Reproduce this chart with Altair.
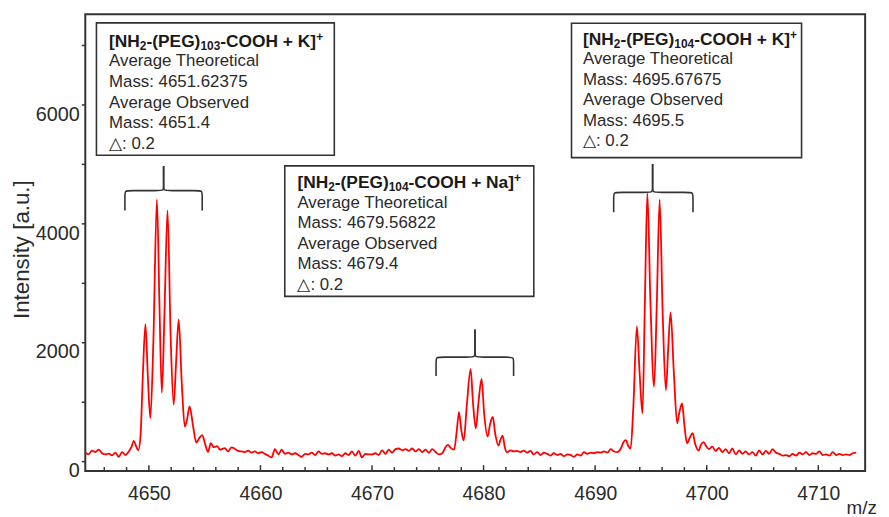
import altair as alt
import pandas as pd

# ---------------- spectrum ----------------
mz = [
    # baseline left
    4644.3, 4644.6, 4644.9, 4645.2, 4645.5, 4645.8, 4646.1, 4646.4, 4646.7, 4647.0,
    4647.3, 4647.6, 4647.9, 4648.2,
    # [NH2-(PEG)103-COOH + K]+ cluster
    4648.45, 4648.65, 4648.85, 4649.05, 4649.25, 4649.45, 4649.69, 4649.9, 4650.13, 4650.4,
    4650.72, 4650.95, 4651.16, 4651.4, 4651.67, 4651.95, 4652.22, 4652.45, 4652.67, 4652.95,
    4653.22, 4653.42, 4653.65, 4653.95, 4654.25, 4654.5, 4654.78, 4655.05, 4655.3, 4655.55,
    4655.8, 4656.1, 4656.4, 4656.8, 4657.1, 4657.4, 4657.7, 4658.0, 4658.3, 4658.6,
    4658.9, 4659.2, 4659.5, 4659.8, 4660.1,
    # baseline middle
    4660.4, 4660.7, 4661.0, 4661.3, 4661.6, 4661.9, 4662.2, 4662.5, 4662.8, 4663.1,
    4663.4, 4663.7, 4664.0, 4664.3, 4664.6, 4664.9, 4665.2, 4665.5, 4665.8, 4666.1,
    4666.4, 4666.7, 4667.0, 4667.3, 4667.6, 4667.9, 4668.2, 4668.5, 4668.8, 4669.1,
    4669.4, 4669.7, 4670.0, 4670.3, 4670.6, 4670.9, 4671.2, 4671.5, 4671.8, 4672.1,
    4672.4, 4672.7, 4673.0, 4673.3, 4673.6, 4673.9, 4674.2, 4674.5, 4674.8, 4675.1,
    4675.4, 4675.7, 4676.0, 4676.3,
    # [NH2-(PEG)104-COOH + Na]+ cluster
    4676.55, 4676.8, 4677.05, 4677.36, 4677.58, 4677.8, 4678.0, 4678.22, 4678.5, 4678.84,
    4679.05, 4679.3, 4679.55, 4679.82, 4680.05, 4680.36, 4680.58, 4680.82, 4681.05, 4681.33,
    4681.52, 4681.71, 4681.9, 4682.1, 4682.4, 4682.7,
    # baseline
    4683.0, 4683.3, 4683.6, 4683.9, 4684.2, 4684.5, 4684.8, 4685.1, 4685.4, 4685.7,
    4686.0, 4686.3, 4686.6, 4686.9, 4687.2, 4687.5, 4687.8, 4688.1, 4688.4, 4688.7,
    4689.0, 4689.3, 4689.6, 4689.9, 4690.2, 4690.5, 4690.8, 4691.1, 4691.4, 4691.7,
    4692.0, 4692.3,
    # [NH2-(PEG)104-COOH + K]+ cluster
    4692.55, 4692.76, 4692.95, 4693.18, 4693.42, 4693.74, 4693.98, 4694.24, 4694.45, 4694.68,
    4694.95, 4695.28, 4695.52, 4695.78, 4696.05, 4696.34, 4696.55, 4696.76, 4697.05, 4697.35,
    4697.55, 4697.79, 4698.0, 4698.23, 4698.5, 4698.74, 4698.95, 4699.27, 4699.5, 4699.72,
    4699.95, 4700.2,
    # baseline right
    4700.5, 4700.8, 4701.1, 4701.4, 4701.7, 4702.0, 4702.3, 4702.6, 4702.9, 4703.2,
    4703.5, 4703.8, 4704.1, 4704.4, 4704.7, 4705.0, 4705.3, 4705.6, 4705.9, 4706.2,
    4706.5, 4706.8, 4707.1, 4707.4, 4707.7, 4708.0, 4708.3, 4708.6, 4708.9, 4709.2,
    4709.5, 4709.8, 4710.1, 4710.4, 4710.7, 4711.0, 4711.3, 4711.6, 4711.9, 4712.2,
    4712.5, 4712.8, 4713.1, 4713.4,
]
intensity = [
    140, 115, 175, 150, 190, 130, 110, 125, 95, 140,
    70, 150, 100, 160,
    240, 340, 250, 180, 420, 1400, 2300, 1450, 720, 2000,
    4400, 2600, 1150, 2500, 4217, 2100, 950, 1700, 2380, 1300,
    580, 700, 920, 600, 310, 380, 435, 280, 150, 300,
    230, 250, 190, 217, 160, 230, 206, 170, 160, 150,
    175, 140, 160, 130, 150,
    120, 90, 60, 200, 110, 190, 120, 140, 110, 130,
    100, 70, 120, 110, 140, 100, 160, 120, 130, 110,
    130, 90, 110, 80, 130, 100, 160, 90, 170, 60,
    120, 110, 110, 130, 100, 180, 120, 190, 140, 200,
    210, 180, 200, 170, 210, 160, 200, 150, 190, 140,
    200, 150, 110, 130,
    220, 272, 220, 190, 480, 820, 520, 345, 950, 1545,
    980, 550, 1000, 1383, 800, 410, 620, 740, 450, 260,
    360, 425, 230, 145, 180, 160,
    170, 150, 175, 140, 170, 110, 150, 100, 140, 120,
    90, 130, 100, 120, 80, 110, 100, 70, 110, 90,
    150, 120, 140, 130, 150, 140, 160, 140, 200, 160,
    150, 210,
    320, 350, 260, 210, 900, 2265, 1500, 800, 2600, 4505,
    2700, 1250, 2600, 4395, 2500, 1190, 1900, 2500, 1500, 633,
    820, 967, 600, 300, 400, 467, 300, 175, 280, 317,
    250, 200,
    240, 170, 220, 150, 200, 130, 210, 110, 180, 120,
    160, 110, 150, 90, 180, 110, 170, 120, 200, 140,
    120, 90, 100, 80, 120, 90, 140, 110, 150, 100,
    130, 120, 160, 100, 110, 90, 150, 100, 120, 100,
    110, 100, 130, 140,
]
assert len(mz) == len(intensity), (len(mz), len(intensity))

# ---------------- axes ----------------
x_major = [4650, 4660, 4670, 4680, 4690, 4700, 4710]
x_minor = [4646, 4648, 4652, 4654, 4656, 4658, 4662, 4664, 4666, 4668, 4672, 4674,
           4676, 4678, 4682, 4684, 4686, 4688, 4692, 4694, 4696, 4698, 4702, 4704,
           4706, 4708, 4712]
y_ticks = [0, 1000, 2000, 3000, 4000, 5000, 6000, 7000]
X_DOMAIN = [4644.3, 4714.2]
Y_DOMAIN = [-170, 7515]
PLOT_W, PLOT_H = 787, 461

# ---------------- annotation boxes ----------------
peg_n = ["103", "104", "104"]
ion = ["K", "Na", "K"]
theoretical = ["4651.62375", "4679.56822", "4695.67675"]
observed = ["4651.4", "4679.4", "4695.5"]
delta = ["0.2", "0.2", "0.2"]
box_x0 = [4645.30, 4662.18, 4687.88]
box_x1 = [4666.62, 4684.50, 4708.50]
box_y0 = [5143, 2769, 5103]
box_y1 = [7370, 4964, 7365]
text_x = [4646.43, 4663.31, 4688.91]
title_y = [7065, 4686, 7103]
line_step = 345

# ---------------- brackets ----------------
br_xl = [4647.85, 4675.74, 4691.66]
br_xc = [4651.32, 4679.23, 4695.15]
br_xr = [4654.78, 4682.69, 4698.77]
br_yb = [4214, 1430, 4186]
br_yh = [4548, 1747, 4519]
br_yt = [4964, 2214, 4998]
rx, ry = 0.45, 85

# ---------------- tables ----------------
DX = (X_DOMAIN[1] - X_DOMAIN[0]) / PLOT_W   # data units per pixel
DY = (Y_DOMAIN[1] - Y_DOMAIN[0]) / PLOT_H

spec_df = pd.DataFrame({"mz": mz, "intensity": intensity})
major_df = pd.DataFrame({"t": x_major})
minor_df = pd.DataFrame({"t": x_minor})
box_df = pd.DataFrame({"x0": box_x0, "x1": box_x1, "y0": box_y0, "y1": box_y1})

# bold title split into normal / subscript / superscript runs
BOLD_W = {"[": .333, "]": .333, "N": .722, "H": .722, "-": .333, "(": .333, ")": .333,
          "P": .667, "E": .667, "G": .778, "C": .722, "O": .778, "+": .584, "K": .722,
          "a": .556, " ": .278}
MAIN, SMALL = 17.5, 12


def run_width(s, size):
    return sum(BOLD_W.get(c, .556) for c in s) * size


title_rows = []
for i in range(3):
    runs = [("[NH", MAIN, 0), ("2", SMALL, -3), ("-(PEG)", MAIN, 0), (peg_n[i], SMALL, -3),
            (f"-COOH + {ion[i]}]", MAIN, 0), ("+", SMALL, 6)]
    px = 0.0
    base = title_y[i] - 6 * DY
    for s, size, shift in runs:
        title_rows.append({"x": text_x[i] + px * DX, "y": base + shift * DY,
                           "text": s, "size": size})
        px += run_width(s, size)
title_df = pd.DataFrame(title_rows)

body_rows = []
for i in range(3):
    lines = ["Average Theoretical", f"Mass: {theoretical[i]}", "Average Observed",
             f"Mass: {observed[i]}", f"△: {delta[i]}"]
    for j, ln in enumerate(lines):
        body_rows.append({"x": text_x[i], "y": title_y[i] - (j + 1) * line_step, "text": ln})
body_df = pd.DataFrame(body_rows)

br_rows = []
for i in range(3):
    xl, xc, xr, yb, yh, yt = br_xl[i], br_xc[i], br_xr[i], br_yb[i], br_yh[i], br_yt[i]
    left = [(xl, yb), (xl, yh - ry), (xl, yh), (xl + rx, yh), (xc - rx, yh), (xc, yh), (xc, yh + ry), (xc, yt)]
    right = [(xr, yb), (xr, yh - ry), (xr, yh), (xr - rx, yh), (xc + rx, yh), (xc, yh), (xc, yh + ry), (xc, yt)]
    for side, pts in (("L", left), ("R", right)):
        for k, (qx, qy) in enumerate(pts):
            br_rows.append({"path": f"{i}{side}", "k": k, "x": qx, "y": qy})
br_df = pd.DataFrame(br_rows)

xs = alt.Scale(domain=X_DOMAIN, nice=False, zero=False)
ys = alt.Scale(domain=Y_DOMAIN, nice=False, zero=False)
FONT = "Liberation Sans"
INK = "#2a2a2a"

x_axis = alt.Axis(values=x_major, format="d", ticks=False, domain=False, grid=False,
                  labelFont=FONT, labelFontSize=19.5, labelColor=INK, labelPadding=14,
                  title="m/z", titleFont=FONT, titleFontSize=19, titleFontWeight="normal",
                  titleColor=INK, titleX=783, titleY=37, titleAlign="center",
                  titleBaseline="middle")
y_axis = alt.Axis(values=y_ticks, format="d",
                  labelExpr="datum.value % 2000 === 0 ? datum.label : ''",
                  ticks=True, tickSize=4, tickWidth=1.5, tickColor="#333",
                  domain=False, grid=False,
                  labelFont=FONT, labelFontSize=20, labelColor=INK, labelPadding=2,
                  labelBaseline="top",
                  title="Intensity [a.u.]", titleFont=FONT, titleFontSize=22.5,
                  titleFontWeight="normal", titleColor=INK, titleX=-64, titleY=237,
                  titleAngle=270, titleAlign="center", titleBaseline="middle")


def X(field):
    return alt.X(field, scale=xs, axis=x_axis)


def Y(field):
    return alt.Y(field, scale=ys, axis=y_axis)


spectrum = alt.Chart(spec_df).mark_line(color="#ff0000", strokeWidth=1.8,
                                        interpolate="monotone").encode(
    x=X("mz:Q"), y=Y("intensity:Q"))

major_ticks = alt.Chart(major_df).mark_rule(color="#333", strokeWidth=1.5).encode(
    x=X("t:Q"), y=alt.value(PLOT_H), y2=alt.value(PLOT_H - 6))
minor_ticks = alt.Chart(minor_df).mark_rule(color="#333", strokeWidth=1.5).encode(
    x=X("t:Q"), y=alt.value(PLOT_H), y2=alt.value(PLOT_H - 4))

brackets = alt.Chart(br_df).mark_line(color="#333", strokeWidth=1.6,
                                      interpolate="basis").encode(
    x=X("x:Q"), y=Y("y:Q"), detail="path:N", order="k:Q")

boxes = alt.Chart(box_df).mark_rect(fill="white", stroke="#333", strokeWidth=1.6).encode(
    x=X("x0:Q"), x2="x1:Q", y=Y("y0:Q"), y2="y1:Q")

title_text = alt.Chart(title_df).mark_text(font=FONT, fontWeight="bold", color="#1a1a1a",
                                           align="left", baseline="alphabetic").encode(
    x=X("x:Q"), y=Y("y:Q"), text="text:N", size=alt.Size("size:Q", scale=None))

body_text = alt.Chart(body_df).mark_text(font=FONT, fontSize=17, color=INK,
                                         align="left", baseline="middle").encode(
    x=X("x:Q"), y=Y("y:Q"), text="text:N")

chart = alt.layer(spectrum, major_ticks, minor_ticks, brackets, boxes, title_text,
                  body_text).properties(
    width=PLOT_W, height=PLOT_H,
    padding={"left": 78, "top": 4, "right": 16, "bottom": 44},
    autosize=alt.AutoSizeParams(type="none"),
).configure(font=FONT, background="white").configure_view(stroke="#333", strokeWidth=2)

chart.save("out.html", embed_options={"renderer": "svg", "actions": False})
